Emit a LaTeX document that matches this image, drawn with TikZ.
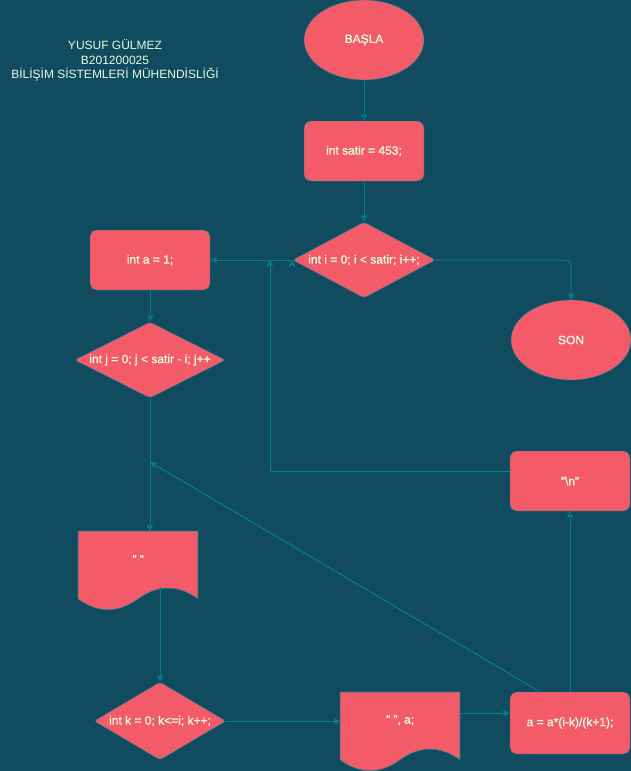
\documentclass[tikz,border=0pt]{standalone}
\usepackage{fontspec}
\setmainfont{Liberation Sans}[BoldFont={Liberation Sans}, BoldFeatures={FakeBold=1.2}]
\usetikzlibrary{shapes.geometric,arrows.meta,backgrounds}

\definecolor{bgcol}{HTML}{114B5F}
\definecolor{boxcol}{HTML}{F45B69}
\definecolor{linecol}{HTML}{028090}
\definecolor{txtcol}{HTML}{E4FDE1}

\tikzset{
  every node/.style={text=txtcol, font=\fontsize{12}{14}\selectfont\bfseries, inner sep=0pt},
  box/.style={rectangle, rounded corners=7pt, fill=boxcol, draw=linecol, minimum width=120pt, minimum height=60pt},
  term/.style={ellipse, fill=boxcol, draw=linecol, minimum width=120pt, minimum height=80pt},
  cond/.style={diamond, rounded corners=3pt, fill=boxcol, draw=linecol},
  docbox/.style={rectangle, minimum width=120pt, minimum height=56pt, anchor=north west},
  docshape/.style={fill=boxcol, draw=linecol, line width=0.6pt},
  arr/.style={draw=linecol, line width=1pt, -{Stealth[length=7pt,width=6.5pt,inset=2pt]}},
  title/.style={align=center, font=\fontsize{12}{14.3}\selectfont}
}

\begin{document}
\begin{tikzpicture}[x=1pt, y=-1pt]

\useasboundingbox (0,0) rectangle (631,771);

\node[title] (hdr) at (115,60.5) {YUSUF GÜLMEZ\\B201200025\\BİLİŞİM SİSTEMLERİ MÜHENDİSLİĞİ};

\node[term] (basla) at (364,40) {BAŞLA};
\node[box] (satir) at (364,151) {int satir = 453;};
\node[cond, shape aspect=1.88, minimum width=143pt, minimum height=76pt] (forI) at (364,260) {int i = 0; i < satir; i++;};
\node[term] (son) at (571,340) {SON};
\node[box] (aInit) at (150,260) {int a = 1;};
\node[cond, shape aspect=1.99, minimum width=151pt, minimum height=76pt] (forJ) at (150,360) {int j = 0; j < satir - i; j++};
\node[docbox] (spc) at (78,531) {" "};
\node[cond, shape aspect=1.7, minimum width=132pt, minimum height=78pt] (forK) at (160,721) {int k = 0; k<=i; k++;};
\node[docbox] (out) at (340,692) {" ", a;};
\node[box, minimum height=62pt] (calc) at (570,723) {a = a*(i-k)/(k+1);};
\node[box] (nl) at (570,481) {"\textbackslash n"};

\coordinate (merge) at (270,260);
\coordinate (back) at (150,462);

% document shapes under the texts
\begin{pgfonlayer}{background}
\fill[bgcol] (0,0) rectangle (631,771);
\foreach \d in {spc,out}
  \path[docshape, shift={(\d.north west)}] (0,0) -- (120,0) -- (120,68)
    .. controls (100,53.6) and (80,53.6) .. (60,68)
    .. controls (40,82.4) and (20,82.4) .. (0,68) -- cycle;
\end{pgfonlayer}

\path[arr] (basla) edge (satir);
\path[arr] (satir) edge (forI);
\path[arr] (forI.west) edge (aInit.east);
\draw[arr, rounded corners=5pt] (forI.east) -| (son.north);
\path[arr] (aInit) edge (forJ);
\draw[arr] (forJ.south) -- (forJ.south |- spc.north);
\draw[arr] (spc.south -| forK.north) -- (forK.north);
\draw[arr] (forK.east) -- (forK.east -| out.west);
\draw[arr] ([yshift=7pt]out.east) -- ([yshift=7pt]out.east -| calc.west);
\path[arr] (calc) edge (nl);
\draw[arr] ([xshift=-30pt]calc.north) -- (back);
\draw[arr] ([yshift=10pt]nl.west) -| (merge);

\end{tikzpicture}
\end{document}
